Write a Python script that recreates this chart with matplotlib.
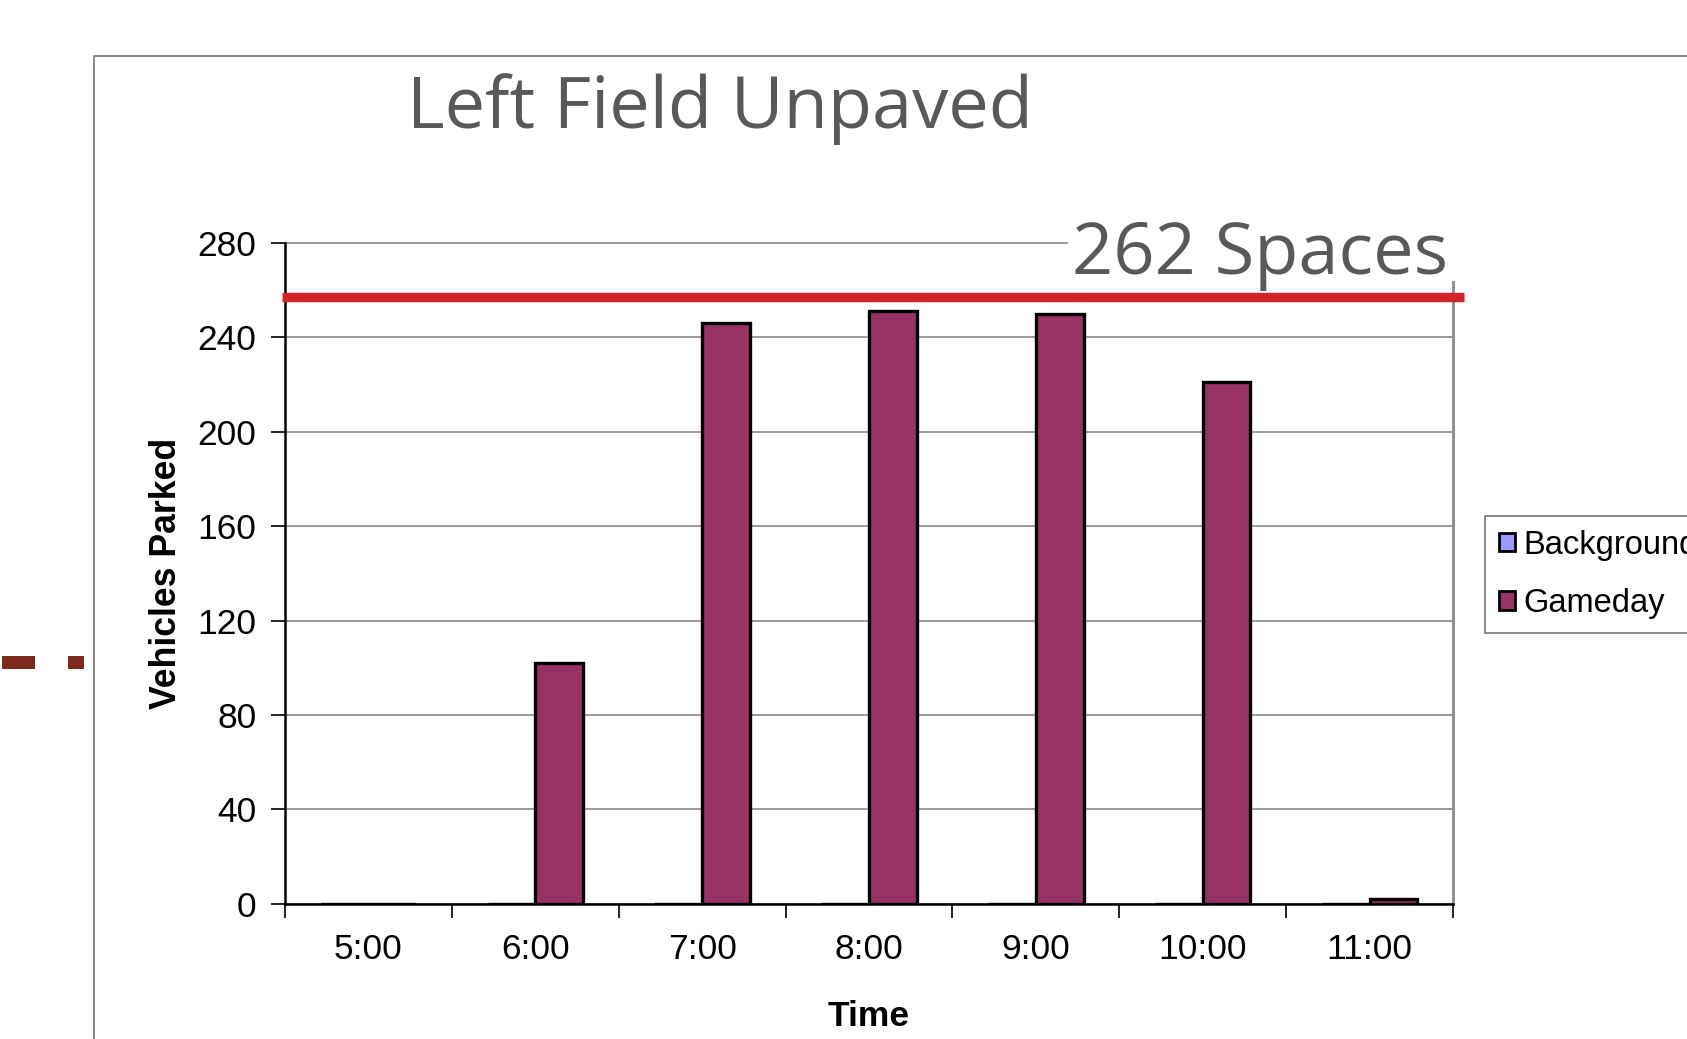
import matplotlib
matplotlib.use("Agg")
import matplotlib.pyplot as plt
import matplotlib.transforms as mtransforms
from matplotlib.patches import Rectangle, Patch
from matplotlib.lines import Line2D
import numpy as np

# ---- data ----
times = ["5:00", "6:00", "7:00", "8:00", "9:00", "10:00", "11:00"]
background = [0, 0, 0, 0, 0, 0, 0]
gameday = [0, 102, 246, 251, 250, 221, 2]
y_ticks = [0, 40, 80, 120, 160, 200, 240, 280]
capacity_line = 257
capacity_text = "262 Spaces"
title = "Left Field Unpaved"
series_names = ["Background", "Gameday"]
series_colors = ["#9999FF", "#993366"]

W, H = 1687, 1039
DPI = 100
fig = plt.figure(figsize=(W / DPI, H / DPI), dpi=DPI)
fig.patch.set_facecolor("white")

def fx(px):
    return px / W

def fy(py):
    return 1 - py / H

AX_L, AX_R, AX_T, AX_B = 285, 1453, 242.9, 903.7
AW, AH = AX_R - AX_L, AX_B - AX_T

def axx(px):
    return (px - AX_L) / AW

def axy(py):
    return (AX_B - py) / AH

ax = fig.add_axes([fx(AX_L), fy(AX_B), fx(AX_R) - fx(AX_L), fy(AX_T) - fy(AX_B)])

sans = ["Liberation Sans", "DejaVu Sans"]
title_font = ["Open Sans", "DejaVu Sans"]

x = np.arange(len(times))
gap = 1.5
w = 1.0 / (2 + gap)
ax.bar(x - w / 2, background, width=w, color=series_colors[0], edgecolor="black",
       linewidth=2.4, zorder=3, label=series_names[0])
ax.bar(x + w / 2, gameday, width=w, color=series_colors[1], edgecolor="black",
       linewidth=2.4, zorder=3, label=series_names[1])

ax.set_xlim(-0.5, len(times) - 0.5)
ax.set_ylim(0, 280)
ax.set_yticks(y_ticks)
ax.set_yticklabels([str(v) for v in y_ticks], fontsize=25.5, family=sans)
ax.yaxis.grid(True, color="#8a8a8a", linewidth=1.2, zorder=0)
ax.set_axisbelow(True)
for gl in ax.get_ygridlines():
    gl.set_clip_on(False)

ax.set_xticks(np.arange(-0.5, len(times), 1.0))
ax.set_xticklabels([])
ax.set_xticks(x, minor=True)
ax.set_xticklabels(times, minor=True, fontsize=25.5, family=sans)
ax.tick_params(axis="x", which="major", length=10, width=1.2, direction="out", color="black")
ax.tick_params(axis="x", which="minor", length=0, pad=21)
ax.tick_params(axis="y", length=10, width=1.2, direction="out", pad=10.5, color="black")

for s in ["left", "bottom"]:
    ax.spines[s].set_color("black")
    ax.spines[s].set_linewidth(1.8)
    ax.spines[s].set_zorder(4)
ax.spines["top"].set_visible(False)
ax.spines["right"].set_color("#8a8a8a")
ax.spines["right"].set_linewidth(2.0)
ax.spines["right"].set_zorder(2)

ax.set_ylabel("Vehicles Parked", fontsize=25.7, fontweight="bold", family=sans)
ax.yaxis.set_label_coords(axx(167), 0.5)
ax.set_xlabel("Time", fontsize=25.5, fontweight="bold", family=sans)
ax.xaxis.set_label_coords(0.5, axy(1016))
ax.xaxis.label.set_verticalalignment("center")
ax.yaxis.label.set_verticalalignment("center")

# capacity annotation: white cover, text, then red line on top
ax.add_patch(Rectangle((axx(1068), axy(281)), axx(1480) - axx(1068), axy(185) - axy(281),
                       transform=ax.transAxes, facecolor="white", edgecolor="none",
                       clip_on=False, zorder=5))
ax.text(fx(1072), fy(274), capacity_text, fontsize=52, color="#58595b",
        family=title_font, ha="left", va="baseline", transform=fig.transFigure,
        zorder=6, clip_on=False)
tr = mtransforms.blended_transform_factory(ax.transAxes, ax.transData)
ax.plot([axx(282), axx(1464)], [capacity_line, capacity_line], transform=tr,
        color="#d2232a", linewidth=6.8, solid_capstyle="butt", clip_on=False, zorder=7)

# title
fig.text(fx(407), fy(128), title, fontsize=52, color="#58595b",
         family=title_font, ha="left", va="baseline")

# legend
handles = [Patch(facecolor=c, edgecolor="black", linewidth=2.0) for c in series_colors]
leg = fig.legend(handles, series_names, loc="upper left",
                 bbox_to_anchor=(fx(1485), fy(516)), bbox_transform=fig.transFigure,
                 prop=dict(family=sans, size=23.5), frameon=True, fancybox=False,
                 borderpad=0.42, handlelength=0.5, handleheight=0.5,
                 handletextpad=0.25, labelspacing=0.83, borderaxespad=0)
leg.get_frame().set_edgecolor("#555555")
leg.get_frame().set_linewidth(1.2)

# slide frame and decorative marks
fig.add_artist(Line2D([fx(93.7), fx(93.7), 1.0], [0.0, fy(56), fy(56)],
                      transform=fig.transFigure, color="#808080", linewidth=1.3))
fig.add_artist(Rectangle((fx(2), fy(669)), fx(35) - fx(2), fy(656) - fy(669),
                         transform=fig.transFigure, color="#7d2a1e", linewidth=0))
fig.add_artist(Rectangle((fx(68), fy(669)), fx(84) - fx(68), fy(656) - fy(669),
                         transform=fig.transFigure, color="#7d2a1e", linewidth=0))

fig.savefig("out.png", dpi=DPI)
